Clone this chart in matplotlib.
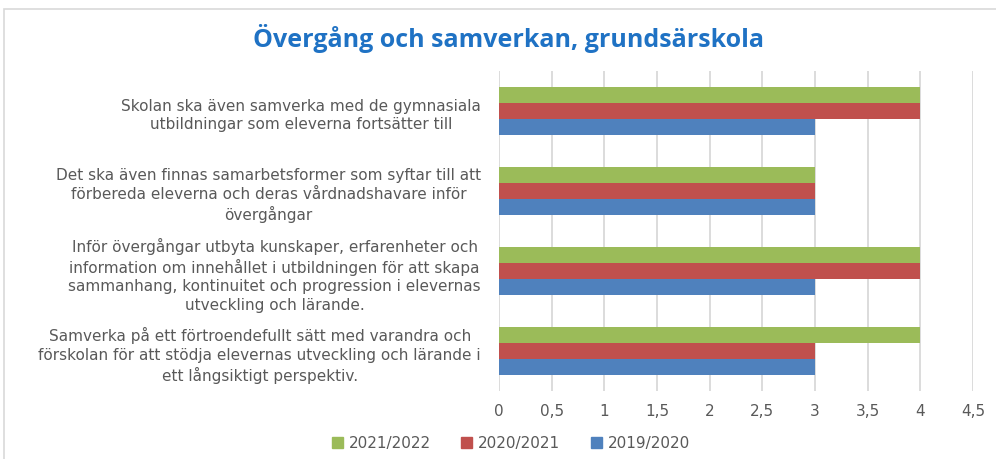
import numpy as np
import matplotlib.pyplot as plt
from matplotlib.patches import Rectangle, Patch

categories = [
    "Samverka på ett förtroendefullt sätt med varandra och\n"
    "förskolan för att stödja elevernas utveckling och lärande i\n"
    "ett långsiktigt perspektiv.",
    "Inför övergångar utbyta kunskaper, erfarenheter och\n"
    "information om innehållet i utbildningen för att skapa\n"
    "sammanhang, kontinuitet och progression i elevernas\n"
    "utveckling och lärande.",
    "Det ska även finnas samarbetsformer som syftar till att\n"
    "förbereda eleverna och deras vårdnadshavare inför\n"
    "övergångar",
    "Skolan ska även samverka med de gymnasiala\n"
    "utbildningar som eleverna fortsätter till",
]
v_2021_2022 = [4, 4, 3, 4]
v_2020_2021 = [3, 4, 3, 4]
v_2019_2020 = [3, 3, 3, 3]
xticks = [0, 0.5, 1, 1.5, 2, 2.5, 3, 3.5, 4, 4.5]
xtick_labels = ["0", "0,5", "1", "1,5", "2", "2,5", "3", "3,5", "4", "4,5"]

green = "#9BBB59"
red = "#C0504D"
blue = "#4F81BD"
gray = "#595959"

fig = plt.figure(figsize=(9.96, 4.6), dpi=100)
fig.patches.append(Rectangle((4 / 996, -0.1), 1.2, 1 - 10 / 460 + 0.1,
                             transform=fig.transFigure, fill=False,
                             edgecolor="#D9D9D9", linewidth=1.2))

ax = fig.add_axes([499 / 996, 1 - 392 / 460, 474 / 996, 320 / 460])
y = np.arange(len(categories))
h = 0.2
ax.barh(y + h, v_2021_2022, height=h, color=green, label="2021/2022", zorder=3)
ax.barh(y, v_2020_2021, height=h, color=red, label="2020/2021", zorder=3)
ax.barh(y - h, v_2019_2020, height=h, color=blue, label="2019/2020", zorder=3)

ax.set_xlim(0, 4.5)
ax.set_ylim(-0.5, 3.5)
ax.set_xticks(xticks)
ax.set_xticklabels(xtick_labels, color=gray, fontsize=11, family="DejaVu Sans")
ax.set_yticks(y)
ax.set_yticklabels(categories, color=gray, fontsize=11, family="DejaVu Sans",
                   multialignment="center", linespacing=1.3)
ax.tick_params(axis="both", length=0)
ax.tick_params(axis="y", pad=13)
ax.tick_params(axis="x", pad=9)
for s in ax.spines.values():
    s.set_visible(False)
ax.grid(axis="x", color="#D9D9D9", linewidth=1.3, zorder=0)

fig.text(508 / 996, 1 - 38 / 460, "Övergång och samverkan, grundsärskola",
         ha="center", va="center", fontsize=18, fontweight="bold",
         color="#1F72C4", family="Open Sans")

handles = [Patch(color=green), Patch(color=red), Patch(color=blue)]
leg = fig.legend(handles, ["2021/2022", "2020/2021", "2019/2020"], ncol=3,
                 loc="center", bbox_to_anchor=(511 / 996, 1 - 444 / 460),
                 frameon=False, handlelength=0.7, handleheight=0.7,
                 handletextpad=0.4, columnspacing=2.0,
                 prop={"family": "DejaVu Sans", "size": 11})
for t in leg.get_texts():
    t.set_color(gray)

fig.savefig("out.png", dpi=100)
